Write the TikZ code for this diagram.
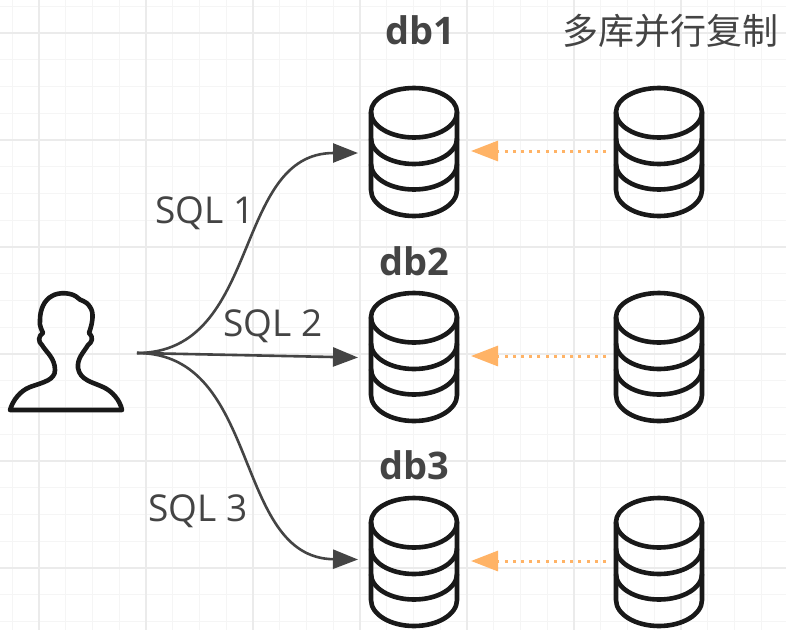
\documentclass[tikz,border=0pt]{standalone}
\usepackage{fontspec}
\setmainfont{Open Sans}
\newfontfamily\cjk{Noto Sans CJK SC}
\usetikzlibrary{arrows.meta,calc}
\definecolor{minorgrid}{HTML}{F5F5F5}
\definecolor{majorgrid}{HTML}{EBEBEB}
\definecolor{inkdark}{HTML}{444444}
\definecolor{linkorange}{HTML}{FFB366}
\tikzset{
  dbbox/.style={minimum width=88pt,minimum height=131pt,inner sep=0pt,outer sep=0pt},
  dbline/.style={draw=black!90,line width=4.6pt},
  sqllink/.style={draw=inkdark,line width=2.6pt,-{Triangle[length=25pt,width=19pt]}},
  replink/.style={draw=linkorange,line width=3pt,dash pattern=on 3pt off 5.2pt,-{Triangle[length=27pt,width=20pt,fill=linkorange]}},
  sqllabel/.style={text=inkdark,font=\fontsize{37}{40}\selectfont,inner sep=0pt},
  dblabel/.style={text=inkdark,font=\bfseries\fontsize{38}{42}\selectfont,inner sep=0pt},
}
\newcommand{\dbcyl}[3]{%
  \node[dbbox] (#1) at (#2,#3) {};
  \draw[dbline,line join=round] ($(#1.center)+(-43,-40.5)$) arc[start angle=180,end angle=360,x radius=43,y radius=24]
     -- ++(0,78) arc[start angle=0,end angle=180,x radius=43,y radius=26] -- cycle;
  \foreach \dy in {-40.5,-14,11.5} {
    \draw[dbline] ($(#1.center)+(-43,\dy)$) arc[start angle=180,end angle=0,x radius=43,y radius=25.5];
  }
}
\begin{document}
\begin{tikzpicture}[x=1pt,y=-1pt]
\useasboundingbox (0,0) rectangle (786,630);
\fill[white] (0,0) rectangle (786,630);
% grid
\foreach \i in {-1,...,29} {
  \draw[minorgrid,line width=1.2pt] ({12.25+26.75*\i},0) -- ({12.25+26.75*\i},630);
  \draw[minorgrid,line width=1.2pt] (0,{6.25+26.75*\i}) -- (786,{6.25+26.75*\i});
}
\foreach \i in {0,...,7} {
  \draw[majorgrid,line width=1.4pt] ({39+107*\i},0) -- ({39+107*\i},630);
  \draw[majorgrid,line width=1.4pt] (0,{33+107*\i}) -- (786,{33+107*\i});
}
% person
\node[minimum width=112pt,minimum height=119pt,inner sep=0pt] (user) at (66,352.5) {};
\draw[draw=black!90,line width=4.6pt,line join=round,fill=none]
  (10,410) -- (122,410)
  .. controls (120,400) and (112,391) .. (103,387)
  .. controls (92,382) and (80,380) .. (78,368)
  .. controls (77,358) and (84,352) .. (88,345)
  .. controls (92,342) and (94,338) .. (89,333)
  .. controls (93,322) and (94,312) .. (90,307)
  .. controls (86,300) and (80,301) .. (78,298)
  .. controls (72,292) and (58,292) .. (52,296)
  .. controls (44,300) and (40,310) .. (40,320)
  .. controls (39,326) and (42,330) .. (43,333)
  .. controls (38,336) and (38,342) .. (42,345)
  .. controls (46,352) and (55,358) .. (55,370)
  .. controls (55,380) and (44,382) .. (30,387)
  .. controls (20,391) and (13,400) .. cycle;
\coordinate (fork) at (137,353);
% databases
\dbcyl{d1}{414}{152.5}
\dbcyl{d2}{414}{357.5}
\dbcyl{d3}{414}{562.5}
\dbcyl{r1}{659}{152.5}
\dbcyl{r2}{659}{357.5}
\dbcyl{r3}{659}{562.5}
% connectors
\draw[sqllink] (fork) .. controls (262,353) and (232,153) .. ($(d1.west)+(-12,0.5)$);
\draw[sqllink] (fork) -- ($(d2.west)+(-12,0)$);
\draw[sqllink] (fork) .. controls (262,353) and (232,558) .. ($(d3.west)+(-12,-3)$);
\draw[replink] ($(r1.west)+(-9,-1.5)$) -- ($(d1.east)+(13,-1.5)$);
\draw[replink] ($(r2.west)+(-9,-1.5)$) -- ($(d2.east)+(13,-1.5)$);
\draw[replink] ($(r3.west)+(-9,-1.5)$) -- ($(d3.east)+(13,-1.5)$);
% labels
\node[dblabel] (l1) at (420,30) {db1};
\node[dblabel] (l2) at (414,261) {db2};
\node[dblabel] (l3) at (414,465) {db3};
\node[text=inkdark,inner sep=0pt,font=\cjk\fontsize{36}{39}\selectfont] (title) at (670,31) {多库并行复制};
\node[sqllabel] (s1) at (205,213) {SQL 1};
\node[sqllabel] (s2) at (273,326) {SQL 2};
\node[sqllabel] (s3) at (198,511) {SQL 3};
\end{tikzpicture}
\end{document}
